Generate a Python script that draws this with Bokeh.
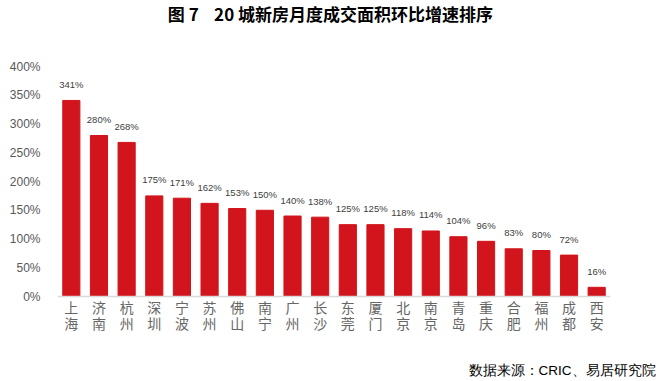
from bokeh.plotting import figure
from bokeh.models import (ColumnDataSource, LabelSet, Label, Title, PrintfTickFormatter,
                          FixedTicker, Range1d, Span)
from bokeh.core.properties import value
from bokeh.embed import file_html
from bokeh.resources import INLINE

cities = ["上海", "济南", "杭州", "深圳", "宁波", "苏州", "佛山", "南宁", "广州", "长沙",
          "东莞", "厦门", "北京", "南京", "青岛", "重庆", "合肥", "福州", "成都", "西安"]
growth = [341, 280, 268, 175, 171, 162, 153, 150, 140, 138,
          125, 125, 118, 114, 104, 96, 83, 80, 72, 16]
y_ticks = [0, 50, 100, 150, 200, 250, 300, 350, 400]

src = ColumnDataSource(dict(x=cities, y=growth, lab=[f"{v}%" for v in growth],
                            c1=[c[0] for c in cities], c2=[c[1] for c in cities],
                            zero=[0] * len(cities)))

# frame fills the canvas height; the visible value axis runs 0..400
p = figure(x_range=cities, y_range=Range1d(-104.3, 514.8), width=660, height=381,
           output_backend="svg", toolbar_location=None,
           min_border_left=57, min_border_right=50, min_border_top=0, min_border_bottom=0)
p.vbar(x="x", top="y", width=0.62, source=src, color="#D2141C")

p.add_layout(LabelSet(x="x", y="y", text="lab", source=src, text_align="center",
                      text_baseline="middle", y_offset=16, text_font_size="9.5px",
                      text_color="#404040", text_font=value("Liberation Sans")))

for col, off in (("c1", -10), ("c2", -26)):
    p.add_layout(LabelSet(x="x", y="zero", text=col, source=src, text_align="center",
                          text_baseline="middle", y_offset=off, text_font_size="14px",
                          text_color="#666666", text_font=value("Noto Sans CJK SC")))

p.add_layout(Span(location=0, dimension="width", line_color="#D9D9D9", line_width=1.5))

p.xgrid.visible = False
p.ygrid.visible = False
p.xaxis.visible = False
p.outline_line_color = None
p.background_fill_color = "white"
p.border_fill_color = "white"

ya = p.yaxis[0]
ya.ticker = FixedTicker(ticks=y_ticks)
ya.formatter = PrintfTickFormatter(format="%d%%")
ya.axis_line_color = None
ya.major_tick_line_color = None
ya.minor_tick_line_color = None
ya.major_label_text_font_size = "12px"
ya.major_label_text_color = "#595959"
ya.major_label_text_font = "Liberation Sans"
ya.major_label_standoff = 11

nb = "\u00a0"
p.add_layout(Label(x=9.87, y=493, text=f"图{nb}7{nb}{nb}{nb}{nb}20{nb}城新房月度成交面积环比增速排序",
                   text_align="center", text_baseline="middle", text_font="Noto Sans CJK SC",
                   text_font_size="17px", text_font_style="bold", text_color="#000000"))

p.add_layout(Title(text="数据来源：CRIC、易居研究院", align="right", text_font="Liberation Sans",
                   text_font_size="13.5px", text_font_style="normal", text_color="#000000",
                   offset=-49, standoff=0, padding=4), "below")

open("out.html", "w").write(file_html(p, INLINE))
